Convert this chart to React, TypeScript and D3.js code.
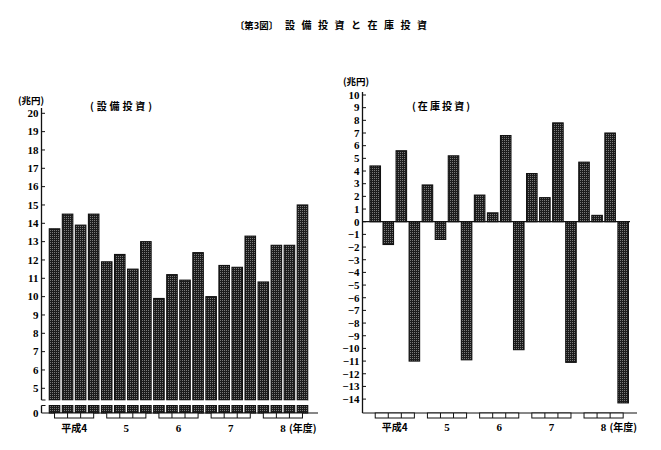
import React from "react";
import * as d3 from "d3";

const years = ["平成4", "5", "6", "7", "8"];
const quarters = ["I", "II", "III", "IV"];
const capex = [13.7, 14.5, 13.9, 14.5, 11.9, 12.3, 11.5, 13.0, 9.9, 11.2, 10.9, 12.4, 10.0, 11.7, 11.6, 13.3, 10.8, 12.8, 12.8, 15.0];
const inventory = [4.4, -1.8, 5.6, -11.0, 2.9, -1.4, 5.2, -10.9, 2.1, 0.7, 6.8, -10.1, 3.8, 1.9, 7.8, -11.1, 4.7, 0.5, 7.0, -14.3];
const leftTicks = [5, 6, 7, 8, 9, 10, 11, 12, 13, 14, 15, 16, 17, 18, 19, 20];
const rightTicks = d3.range(-14, 11);

const ids = d3.range(20).map(String);
const NUM = "'Liberation Serif', 'DejaVu Serif', serif";
const CJK = "'Noto Sans CJK JP', sans-serif";

export default function App() {
  // left panel
  const xL = d3.scaleBand().domain(ids).range([48, 309]).paddingInner(0.195).paddingOuter(0.0975);
  const yL = d3.scaleLinear().domain([5, 20]).range([388.3, 113.3]);
  const breakTop = 400;
  const breakBot = 405.5;
  const baseL = 413;
  const axL = 41.5;

  // right panel
  const xR = d3.scaleBand().domain(ids).range([368.7, 629.7]).paddingInner(0.195).paddingOuter(0.0975);
  const yR = d3.scaleLinear().domain([-14, 10]).range([399.1, 95]);
  const axR = 362.5;
  const baseR = 413;

  const bw = xL.bandwidth();

  const brackets = (x: d3.ScaleBand<string>, y0: number) =>
    years.map((yr, g) => {
      const cs = quarters.map((_, q) => (x(String(g * 4 + q)) as number) + x.bandwidth() / 2);
      return (
        <g key={"br" + g}>
          <rect x={cs[0]} y={y0} width={cs[3] - cs[0]} height={5} fill="#fff" stroke="#111" strokeWidth={1} />
          {cs.slice(1, 3).map((c, i) => (
            <line key={i} x1={c} x2={c} y1={y0} y2={y0 + 5} stroke="#111" strokeWidth={1} />
          ))}
        </g>
      );
    });

  const yearLabels = (x: d3.ScaleBand<string>, y: number) =>
    years.map((yr, g) => {
      const c = ((x(String(g * 4 + 1)) as number) + (x(String(g * 4 + 2)) as number) + x.bandwidth()) / 2;
      return (
        <g key={"yl" + g}>
          <text x={c} y={y} textAnchor="middle" fontFamily={g === 0 ? CJK : NUM} fontWeight="bold" fontSize={g === 0 ? 10 : 11}>
            {yr}
          </text>
          {g === 4 && (
            <text x={c + 6} y={y} fontFamily={CJK} fontWeight="bold" fontSize={10}>
              (年度)
            </text>
          )}
        </g>
      );
    });

  return (
    <svg width={645} height={434} viewBox="8 8 645 434" style={{ display: "block", background: "#fff" }}>
      <defs>
        <pattern id="hatch" width={2} height={2} patternUnits="userSpaceOnUse">
          <rect width={2} height={2} fill="#1c1c1c" />
          <rect width={1} height={1} fill="#7a7a7a" />
        </pattern>
      </defs>
      <rect x={0} y={0} width={661} height={450} fill="#fff" />

      {/* main title */}
      <text x={235} y={29} fontFamily={CJK} fontWeight="bold" fontSize={9.5} textLength={43} lengthAdjust="spacingAndGlyphs">
        〔第3図〕
      </text>
      <text x={285} y={29} fontFamily={CJK} fontWeight="bold" fontSize={10} textLength={142} lengthAdjust="spacing">
        設備投資と在庫投資
      </text>

      {/* ===== left panel ===== */}
      <text x={18} y={104} fontFamily={CJK} fontWeight="bold" fontSize={9.5}>(兆円)</text>
      <text x={90} y={110} fontFamily={CJK} fontWeight="bold" fontSize={10} textLength={62} lengthAdjust="spacing">
        (設備投資)
      </text>

      {capex.map((v, i) => {
        const x = xL(String(i)) as number;
        return (
          <g key={"cb" + i}>
            <rect x={x} y={yL(v)} width={bw} height={breakTop - yL(v)} fill="url(#hatch)" stroke="#111" strokeWidth={1.1} />
            <rect x={x} y={breakBot} width={bw} height={baseL - breakBot} fill="url(#hatch)" stroke="#111" strokeWidth={1.1} />
          </g>
        );
      })}
      <rect x={xL("0") as number} y={breakTop + 0.5} width={(xL("19") as number) + bw - (xL("0") as number)} height={breakBot - breakTop - 1} fill="#fff" />

      {/* left y axis with break */}
      <line x1={axL} x2={axL} y1={108} y2={breakTop} stroke="#111" strokeWidth={1.3} />
      <line x1={axL} x2={axL} y1={breakBot} y2={baseL} stroke="#111" strokeWidth={1.3} />
      <line x1={axL} x2={axL + 4} y1={breakTop} y2={breakTop} stroke="#111" strokeWidth={1} />
      <line x1={axL} x2={axL + 4} y1={breakBot} y2={breakBot} stroke="#111" strokeWidth={1} />
      {leftTicks.map((t) => (
        <g key={"lt" + t}>
          <line x1={axL} x2={axL + 3.5} y1={yL(t)} y2={yL(t)} stroke="#111" strokeWidth={1} />
          <text x={axL - 3} y={yL(t) + 3.8} textAnchor="end" fontFamily={NUM} fontWeight="bold" fontSize={11}>
            {t}
          </text>
        </g>
      ))}
      <text x={axL - 3} y={baseL + 3.8} textAnchor="end" fontFamily={NUM} fontWeight="bold" fontSize={11}>0</text>
      <line x1={axL} x2={318} y1={baseL} y2={baseL} stroke="#111" strokeWidth={1.2} />
      {brackets(xL, baseL)}
      {yearLabels(xL, 432)}

      {/* ===== right panel ===== */}
      <text x={343} y={85} fontFamily={CJK} fontWeight="bold" fontSize={9.5}>(兆円)</text>
      <text x={412} y={110} fontFamily={CJK} fontWeight="bold" fontSize={10} textLength={58} lengthAdjust="spacing">
        (在庫投資)
      </text>

      {inventory.map((v, i) => {
        const x = xR(String(i)) as number;
        const y0 = yR(Math.max(0, v));
        const y1 = yR(Math.min(0, v));
        return <rect key={"ib" + i} x={x} y={y0} width={xR.bandwidth()} height={y1 - y0} fill="url(#hatch)" stroke="#111" strokeWidth={1.1} />;
      })}
      <line x1={axR} x2={630} y1={yR(0)} y2={yR(0)} stroke="#111" strokeWidth={1.2} />
      <line x1={axR} x2={axR} y1={92} y2={baseR} stroke="#111" strokeWidth={1.3} />
      {rightTicks.map((t) => (
        <g key={"rt" + t}>
          <line x1={axR} x2={axR + 3.5} y1={yR(t)} y2={yR(t)} stroke="#111" strokeWidth={1} />
          <text x={axR - 3} y={yR(t) + 3.8} textAnchor="end" fontFamily={NUM} fontWeight="bold" fontSize={11}>
            {t < 0 ? "\u2212" + Math.abs(t) : t}
          </text>
        </g>
      ))}
      <line x1={axR} x2={637} y1={baseR} y2={baseR} stroke="#111" strokeWidth={1.2} />
      {brackets(xR, baseR)}
      {yearLabels(xR, 431)}
    </svg>
  );
}
